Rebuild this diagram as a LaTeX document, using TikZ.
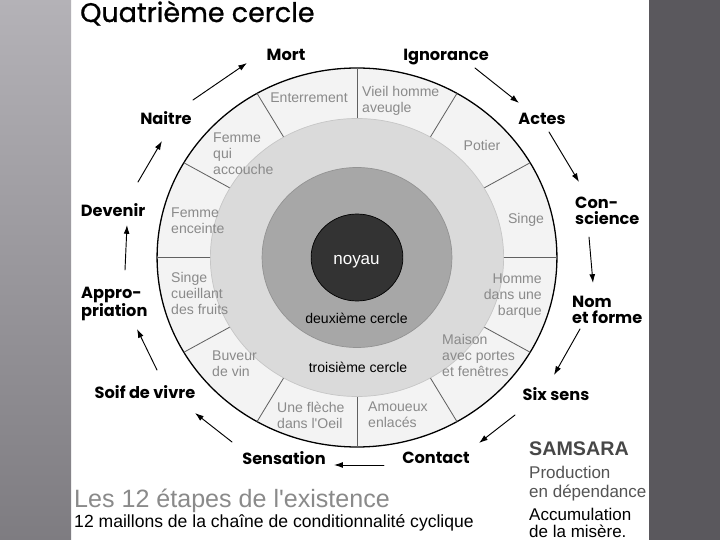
\documentclass[tikz,border=0pt]{standalone}
\usepackage{fontspec}
\setmainfont{Liberation Sans}
\newfontfamily\geofont{Poppins}
\newfontfamily\titlefont[FakeBold=0.9]{Poppins}
\usetikzlibrary{arrows.meta,calc,positioning}

\definecolor{ringfill}{HTML}{F3F3F3}
\definecolor{thirdfill}{HTML}{DADADA}
\definecolor{thirdedge}{HTML}{C6C6C6}
\definecolor{secondfill}{HTML}{A7A7A7}
\definecolor{secondedge}{HTML}{939393}
\definecolor{corefill}{HTML}{333333}
\definecolor{ringtext}{HTML}{8A8A8A}
\definecolor{divline}{HTML}{606060}
\definecolor{slideleftA}{HTML}{B4B2B7}
\definecolor{slideleftB}{HTML}{BDBBC0}
\definecolor{slideleftC}{HTML}{7E7C81}
\definecolor{slideright}{HTML}{5A585D}

\begin{document}
\begin{tikzpicture}[
		x=0.03cm, y=-0.03cm,   % one unit = one pixel, y pointing down
		line cap=round, line join=round,
		>={Latex[length=7.5pt,width=5pt]},
		stage/.style={font=\geofont\bfseries\fontsize{13.8}{14}\selectfont, inner sep=0pt, align=left},
		picto/.style={text=ringtext, font=\fontsize{12}{13.6}\selectfont, inner sep=0pt, align=left},
		flow/.style={->, line width=0.8pt},
		]
		
		% ---------- Slide background ----------
		\fill[white] (0,0) rectangle (720,540);
		\shade[top color=slideleftA, middle color=slideleftB, bottom color=slideleftC] (0,0) rectangle (71,540);
		\fill[slideright] (649,0) rectangle (720,540);
		\useasboundingbox (0,0) rectangle (720,540);
		
		% ---------- Title ----------
		\node[anchor=base west, inner sep=0pt, font=\titlefont\fontsize{23}{23}\selectfont] (title) at (80,22) {Quatrième cercle};
		
		% ---------- Parameters ----------
		\def\Rfour{189.5}   % outer ring
		\def\Rthree{139}    % third circle
		\def\Rtwo{90}       % second circle
		\def\Rcore{43.5}    % core
		
		% ---------- Circles ----------
		\coordinate (C) at (357,257.5);
		\begin{scope}[shift={(C)}, xscale=1.055]
			\filldraw[fill=ringfill, draw=black, line width=1.1pt] (0,0) circle[radius=\Rfour];
			% 12 sectors of the outer ring
			\foreach \a in {0,30,...,330}
			\draw[divline, line width=0.7pt] (\a:\Rthree) -- (\a:\Rfour);
			\filldraw[fill=thirdfill, draw=thirdedge, line width=0.6pt] (0,0) circle[radius=\Rthree];
			\filldraw[fill=secondfill, draw=secondedge, line width=0.6pt] (0,0) circle[radius=\Rtwo];
			\filldraw[fill=corefill, draw=black, line width=0.6pt] (0,0) circle[radius=\Rcore];
		\end{scope}
		
		\node[text=white, inner sep=0pt, font=\fontsize{14.5}{15}\selectfont] (core) at (356.5,262) {noyau};
		\node[inner sep=0pt, font=\fontsize{12}{13}\selectfont] (second) at (356.5,318) {deuxième cercle};
		\node[inner sep=0pt, font=\fontsize{12}{13}\selectfont] (third) at (358,367) {troisième cercle};
		
		% ---------- Pictures of the ring ----------
		\node[picto] (enterrement) at (309,98) {Enterrement};
		\node[picto, anchor=west] (vieil) at (362,100.5) {Vieil homme\\aveugle};
		\node[picto] (potier) at (482,145) {Potier};
		\node[picto] (singe) at (526,220) {Singe};
		\node[picto, anchor=east, align=right] (barque) at (542,296.5) {Homme\\dans une\\barque};
		\node[picto, anchor=west] (maison) at (442,355.5) {Maison\\avec portes\\et fenêtres};
		\node[picto, anchor=west] (amoureux) at (368,415) {Amoueux\\enlacés};
		\node[picto, anchor=west] (fleche) at (277,415) {Une flèche\\dans l\textquotesingle Oeil};
		\node[picto, anchor=west] (buveur) at (212,364) {Buveur\\de vin};
		\node[picto, anchor=west] (cueillant) at (171,293.5) {Singe\\cueillant\\des fruits};
		\node[picto, anchor=west] (enceinte) at (171,221) {Femme\\enceinte};
		\node[picto, anchor=west] (accouche) at (213,153.5) {Femme\\qui\\accouche};
		
		% ---------- The 12 links ----------
		\node[stage] (mort) at (286,55) {Mort};
		\node[stage] (ignorance) at (446,57) {Ignorance};
		\node[stage] (actes) at (542,119) {Actes};
		\node[stage, anchor=west] (conscience) at (575,211) {Con-\\science};
		\node[stage, anchor=west] (nomforme) at (572,310) {Nom\\et forme};
		\node[stage] (sixsens) at (556,394) {Six sens};
		\node[stage] (contact) at (436,458) {Contact};
		\node[stage] (sensation) at (284,458) {Sensation};
		\node[stage] (soif) at (145,392) {Soif de vivre};
		\node[stage, anchor=west] (appro) at (81,304) {Appro-\\priation};
		\node[stage] (devenir) at (113,210) {Devenir};
		\node[stage] (naitre) at (166,118) {Naitre};
		
		% ---------- Arrows round the wheel ----------
		\draw[flow] ([shift={(29,11)}]ignorance.center) -- ([shift={(-23,-16)}]actes.center);
		\draw[flow] ([shift={(7,13)}]actes.center) -- ([shift={(4,-29)}]conscience.west);
		\draw[flow] ([shift={(14,26)}]conscience.west) -- ([shift={(21,-27)}]nomforme.west);
		\draw[flow] ([shift={(8,19)}]nomforme.west) -- ([shift={(-2,-19)}]sixsens.center);
		\draw[flow] ([shift={(-41,21)}]sixsens.center) -- ([shift={(43,-15)}]contact.center);
		\draw[flow] ([shift={(-52,7)}]contact.center) -- ([shift={(50,7)}]sensation.center);
		\draw[flow] ([shift={(-52,-16)}]sensation.center) -- ([shift={(50,21)}]soif.center);
		\draw[flow] ([shift={(12,-22)}]soif.center) -- ([shift={(56,25)}]appro.west);
		\draw[flow] ([shift={(44,-34)}]appro.west) -- ([shift={(14,15)}]devenir.center);
		\draw[flow] ([shift={(25,-28)}]devenir.center) -- ([shift={(-4,23)}]naitre.center);
		\draw[flow] ([shift={(27,-18)}]naitre.center) -- ([shift={(-39,8)}]mort.center);
		
		% ---------- Captions ----------
		\node[anchor=base west, inner sep=0pt, text=ringtext, font=\fontsize{21.4}{22}\selectfont] (etapes) at (74,507) {Les 12 étapes de l\textquotesingle existence};
		\node[anchor=base west, inner sep=0pt, font=\fontsize{15}{16}\selectfont] (maillons) at (74,527) {12 maillons de la chaîne de conditionnalité cyclique};
		
		\node[anchor=base west, inner sep=0pt, text=black!72, font=\bfseries\fontsize{16.8}{17}\selectfont] (samsara) at (529,455) {SAMSARA};
		\node[anchor=base west, inner sep=0pt, text=black!67, font=\fontsize{14.5}{15}\selectfont] (prod) at (529,478) {Production};
		\node[anchor=base west, inner sep=0pt, text=black!67, font=\fontsize{14.5}{15}\selectfont] (dep) at (529,497) {en dépendance};
		\node[anchor=base west, inner sep=0pt, font=\fontsize{14.5}{15}\selectfont] (accu) at (529,520) {Accumulation};
		\node[anchor=base west, inner sep=0pt, font=\fontsize{14.5}{15}\selectfont] (misere) at (529,537) {de la misère.};
		
	\end{tikzpicture}
\end{document}
